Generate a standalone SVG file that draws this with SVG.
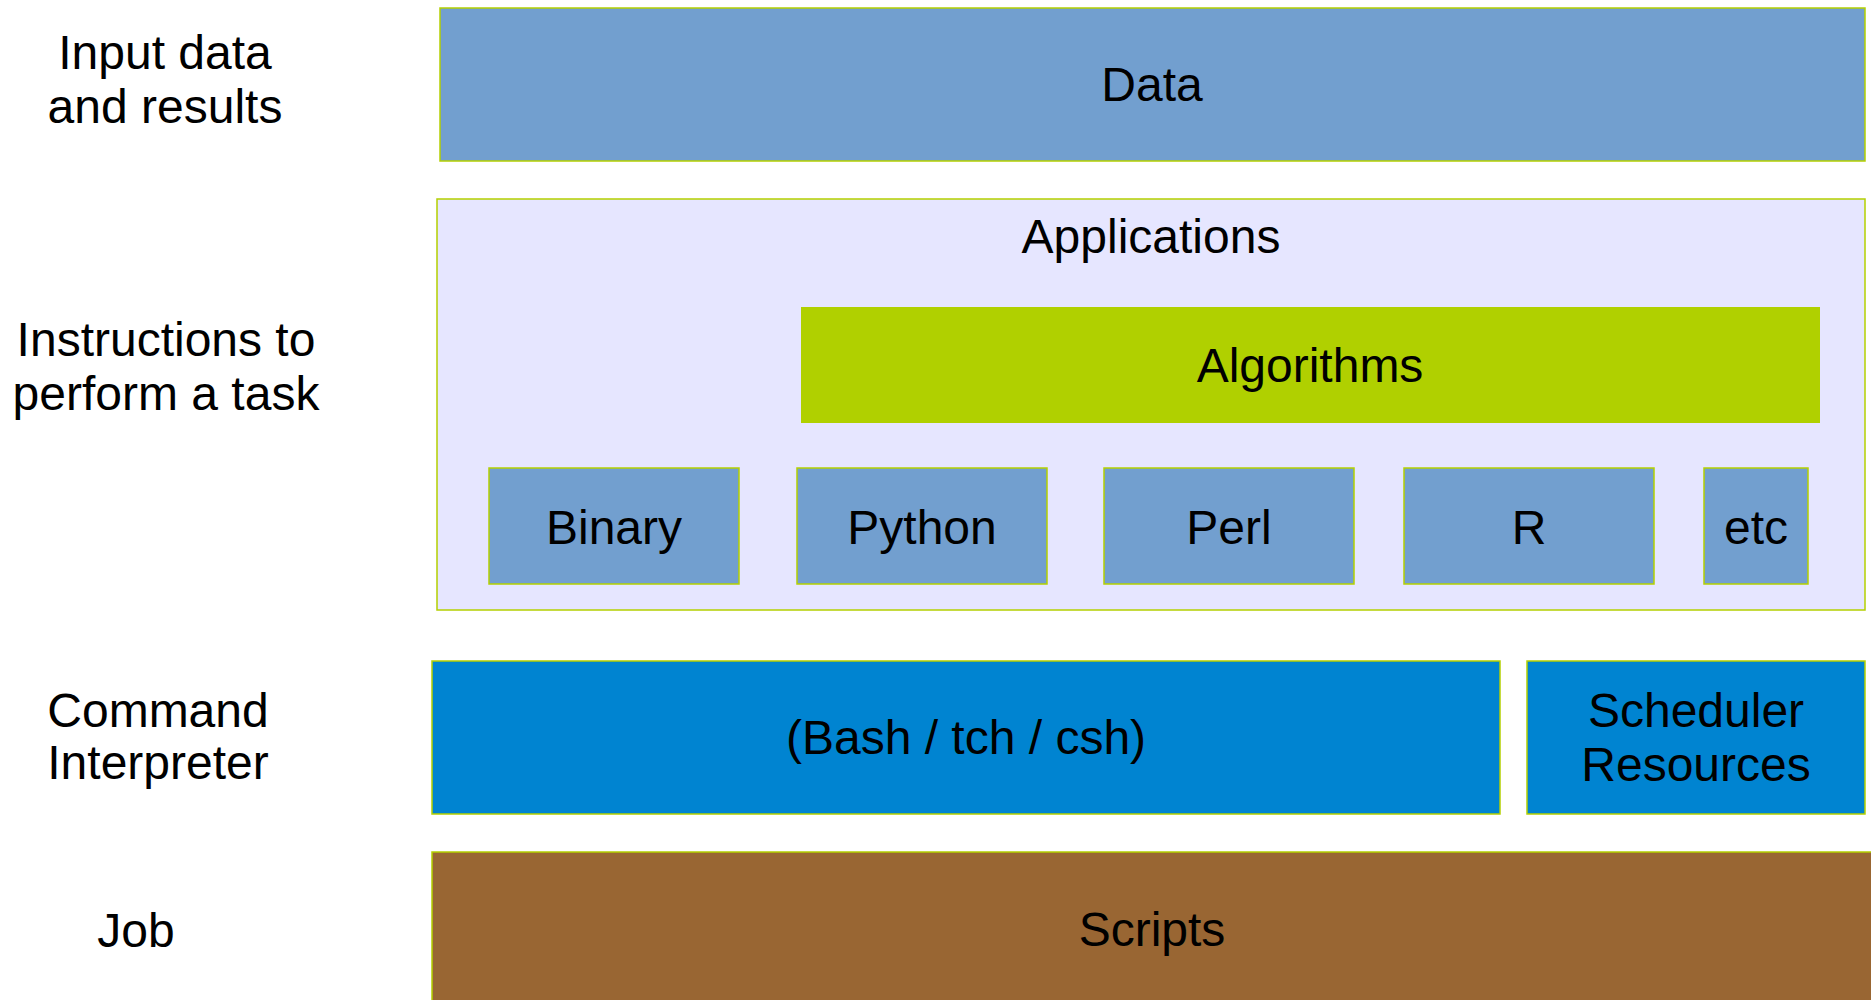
<svg xmlns="http://www.w3.org/2000/svg" width="1871" height="1000" viewBox="0 0 1871 1000">
<style>
text{font-family:"Liberation Sans",Arial,sans-serif;font-size:48px;fill:#000;text-anchor:middle}
.box{stroke:#b4d000;stroke-width:1.5}
.lightblue{fill:#729fcf}
.lav{fill:#e6e6ff}
.green{fill:#b0d000}
.blue{fill:#0084d1}
.brown{fill:#996633}
</style>
<rect width="1871" height="1000" fill="#fff"/>
<g id="labels">
<text x="165" y="69">Input data</text>
<text x="165" y="123">and results</text>
<text x="166" y="356">Instructions to</text>
<text x="166" y="410">perform a task</text>
<text x="158" y="727">Command</text>
<text x="158" y="779">Interpreter</text>
<text x="136" y="947">Job</text>
</g>
<g id="data"><rect class="box lightblue" x="440" y="8" width="1425" height="153"/><text x="1152" y="101">Data</text></g>
<g id="applications"><rect class="box lav" x="437" y="199" width="1428" height="411"/><text x="1151" y="253">Applications</text></g>
<g id="algorithms"><rect class="green" x="801" y="307" width="1019" height="116"/><text x="1310" y="382">Algorithms</text></g>
<g id="binary"><rect class="box lightblue" x="489" y="468" width="250" height="116"/><text x="614" y="544">Binary</text></g>
<g id="python"><rect class="box lightblue" x="797" y="468" width="250" height="116"/><text x="922" y="544">Python</text></g>
<g id="perl"><rect class="box lightblue" x="1104" y="468" width="250" height="116"/><text x="1229" y="544">Perl</text></g>
<g id="r"><rect class="box lightblue" x="1404" y="468" width="250" height="116"/><text x="1529" y="544">R</text></g>
<g id="etc"><rect class="box lightblue" x="1704" y="468" width="104" height="116"/><text x="1756" y="544">etc</text></g>
<g id="shell"><rect class="box blue" x="432" y="661" width="1068" height="153"/><text x="966" y="754">(Bash / tch / csh)</text></g>
<g id="scheduler"><rect class="box blue" x="1527" y="661" width="338" height="153"/><text x="1696" y="727">Scheduler</text><text x="1696" y="781">Resources</text></g>
<g id="scripts"><rect class="box brown" x="432" y="852" width="1450" height="160"/><text x="1152" y="946">Scripts</text></g>
<g id="connectors"></g>
</svg>
